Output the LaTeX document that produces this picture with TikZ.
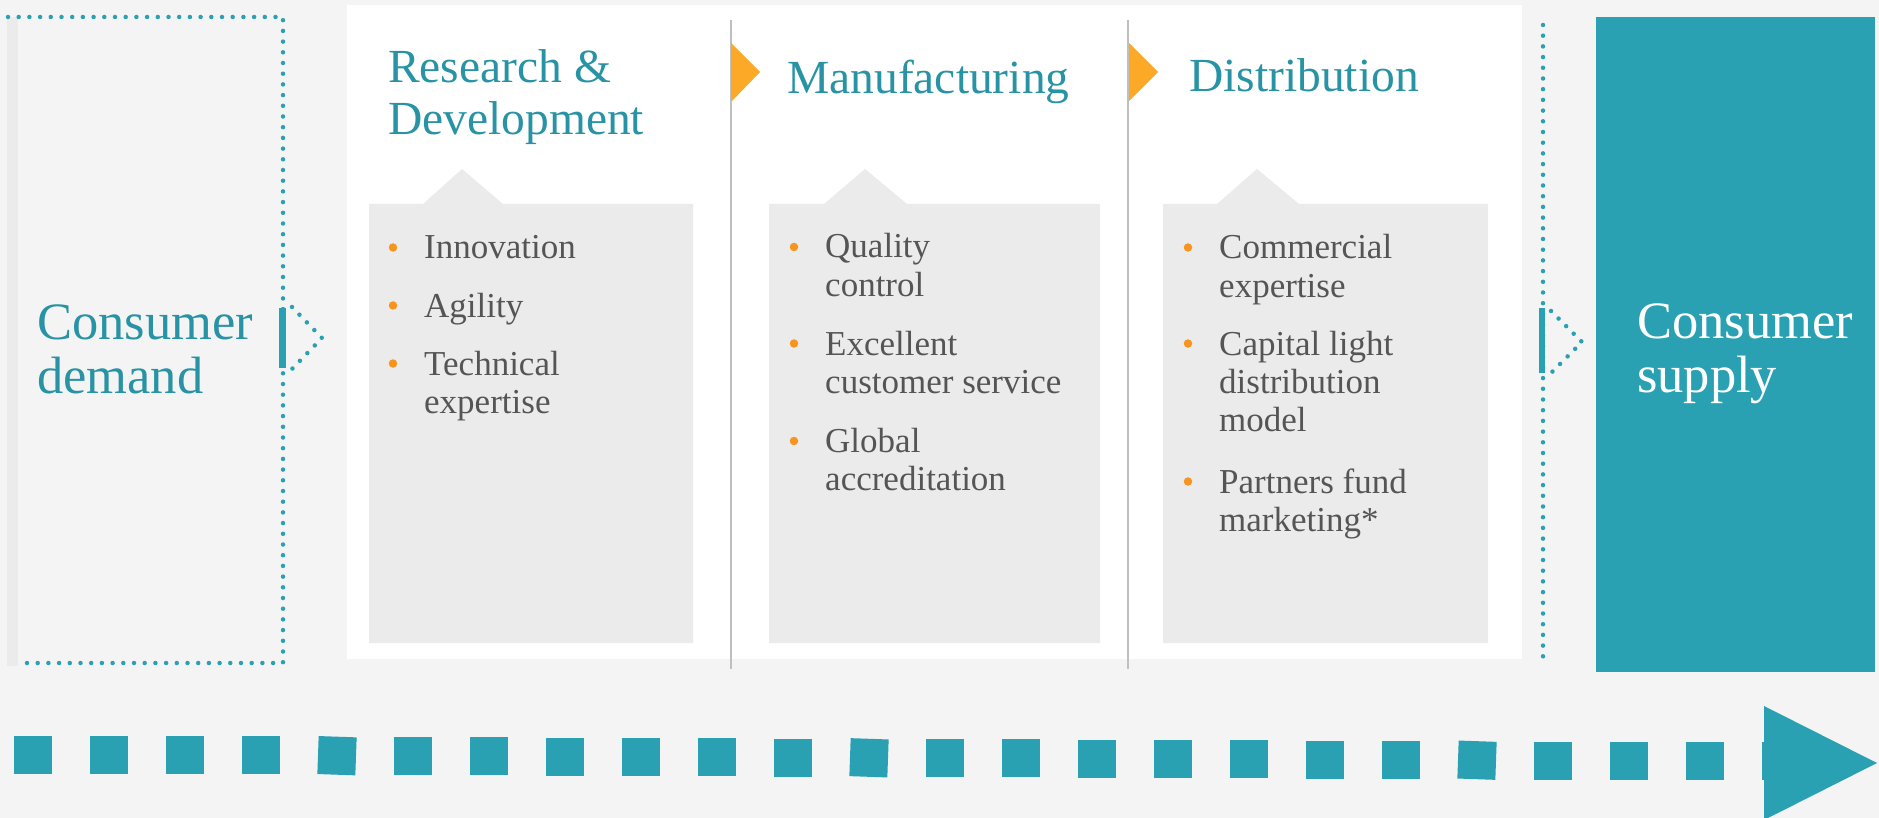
\documentclass[tikz,border=0pt]{standalone}
\usepackage{fontspec}
\setmainfont{Liberation Serif}
\definecolor{pagebg}{HTML}{F4F4F4}
\definecolor{stripgray}{HTML}{EBEBEB}
\definecolor{cardgray}{HTML}{EBEBEB}
\definecolor{flowteal}{HTML}{2AA1B3}
\definecolor{titleteal}{HTML}{2893A5}
\definecolor{bodygray}{HTML}{555555}
\definecolor{rulegray}{HTML}{BFBFBF}
\definecolor{flagorange}{HTML}{FBA927}
\definecolor{bulletorange}{HTML}{F7941D}
\newcommand\stacklines[1]{\parbox[t]{320pt}{#1}}
\begin{document}
\begin{tikzpicture}[x=1pt,y=-1pt,
  dots/.style={draw=flowteal, line width=4.5pt, line cap=round, dash pattern=on 0pt off 10.7pt},
  title/.style={anchor=base west, inner sep=0pt, text=titleteal, font=\fontsize{47.5}{52}\selectfont},
  entry/.style={anchor=base west, inner sep=0pt, text=bodygray, font=\fontsize{35}{38.5}\selectfont},
  endlabel/.style={anchor=base west, inner sep=0pt, font=\fontsize{52.5}{54}\selectfont},
  bulletdot/.style={circle, fill=bulletorange, minimum size=8.5pt, inner sep=0pt},
  sq/.style={fill=flowteal, minimum size=38pt, inner sep=0pt},
  flag/.style={fill=flagorange},
  sep/.style={draw=rulegray, line width=1.5pt}
]
\useasboundingbox (0,0) rectangle (1879,818);
\fill[pagebg] (0,0) rectangle (1879,818);

% ---- consumer demand frame ----
\fill[stripgray] (7,17) rectangle (18,666);
\draw[dots] (8,17) -- (283,17) -- (283,663) -- (18,663);
\node[endlabel, text=titleteal] (demand) at (37,339) {\stacklines{Consumer\\demand}};
\fill[flowteal] (279,308) rectangle (286,368);
\draw[dots] (292,307) -- (322,338) -- (292,369);

% ---- value chain panel ----
\fill[white] (347,5) rectangle (1522,659);
\draw[sep] (731,20) -- (731,669);
\draw[sep] (1128,20) -- (1128,669);
\fill[flag] (731,43) -- (760,72) -- (731,102) -- cycle;
\fill[flag] (1129,43) -- (1158,72) -- (1129,101) -- cycle;

% cards with a pointer tab
\fill[cardgray] (369,204) -- (423,204) -- (462,169) -- (503,204) -- (693,204) -- (693,643) -- (369,643) -- cycle;
\fill[cardgray] (769,204) -- (824,204) -- (865,169) -- (907,204) -- (1100,204) -- (1100,643) -- (769,643) -- cycle;
\fill[cardgray] (1163,204) -- (1217,204) -- (1257,169) -- (1299,204) -- (1488,204) -- (1488,643) -- (1163,643) -- cycle;

% stage titles
\node[title] (rd) at (388,83) {\stacklines{Research \&\\Development}};
\node[title] (mfg) at (787,94) {Manufacturing};
\node[title] (dist) at (1189,92) {Distribution};

% research & development
\node[bulletdot] (rdb1) at (393,247.5) {};
\node[entry] (rd1) at (424,259) {Innovation};
\node[bulletdot] (rdb2) at (393,305.5) {};
\node[entry] (rd2) at (424,317) {Agility};
\node[bulletdot] (rdb3) at (393,363.5) {};
\node[entry] (rd3) at (424,375) {\stacklines{Technical\\expertise}};

% manufacturing
\node[bulletdot] (mfb1) at (794,247) {};
\node[entry] (mf1) at (825,258) {\stacklines{Quality\\control}};
\node[bulletdot] (mfb2) at (794,343.5) {};
\node[entry] (mf2) at (825,355) {\stacklines{Excellent\\customer service}};
\node[bulletdot] (mfb3) at (794,441) {};
\node[entry] (mf3) at (825,452) {\stacklines{Global\\accreditation}};

% distribution
\node[bulletdot] (dsb1) at (1188,247.5) {};
\node[entry] (ds1) at (1219,259) {\stacklines{Commercial\\expertise}};
\node[bulletdot] (dsb2) at (1188,343.5) {};
\node[entry] (ds2) at (1219,355) {\stacklines{Capital light\\distribution\\model}};
\node[bulletdot] (dsb3) at (1188,481.5) {};
\node[entry] (ds3) at (1219,493) {\stacklines{Partners fund\\marketing*}};

% ---- consumer supply ----
\draw[dots] (1543,25) -- (1543,660);
\fill[flowteal] (1539,308) rectangle (1545,373);
\draw[dots] (1551,311) -- (1582,342) -- (1551,373);
\fill[flowteal] (1596,17) rectangle (1875,672);
\node[endlabel, text=white] (supply) at (1637,338) {\stacklines{Consumer\\supply}};

% ---- flow arrow along the bottom ----
\foreach \i in {0,...,23}
  \node[sq, rotate={ifthenelse(\i==4||\i==11||\i==19,-2,0)}] (sq\i) at ({33+76*\i},{754.5+0.3*\i}) {};
\fill[flowteal] (1764,706) -- (1877,763) -- (1764,820) -- cycle;
\end{tikzpicture}
\end{document}
